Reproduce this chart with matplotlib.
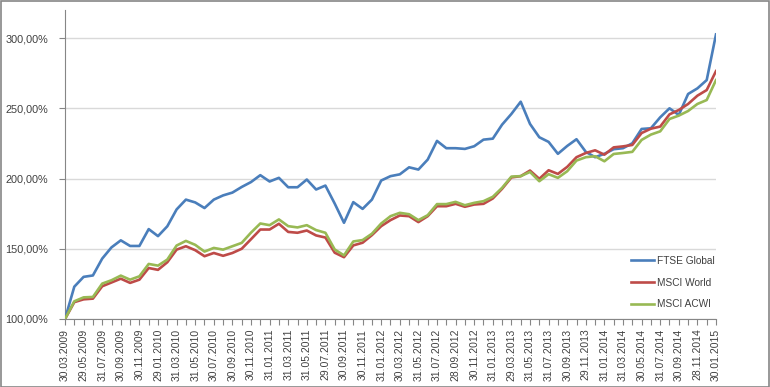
import matplotlib
matplotlib.use("Agg")
import matplotlib.pyplot as plt
import matplotlib.patches as patches
from matplotlib.ticker import FixedLocator, FuncFormatter
import numpy as np

# Style
BLUE = '#4a7ebb'
RED = '#be4b48'
GREEN = '#98b954'
GRID = '#d9d9d9'
AXIS = '#868686'
TEXT = '#404040'

plt.rcParams['font.family'] = ['Liberation Sans', 'DejaVu Sans']

# Data (index level in %, monthly, 30.03.2009 = 100)
ftse_global = [100, 123, 130, 131, 143, 151, 156, 152, 152, 164, 159, 166, 178, 185, 183,
               179, 185, 188, 190, 194, 197.5, 202.4, 197.9, 200.5, 193.8, 193.8, 199.3,
               192.2, 195, 182.2, 168.5, 183.2, 178.4, 185, 198.6, 201.7, 203, 208, 206.4,
               213.5, 226.8, 221.6, 221.6, 221.1, 223, 227.7, 228.4, 238.4, 246, 254.7,
               238.9, 229.4, 226.1, 217.6, 223.2, 228, 219, 215.2, 217.6, 220.9, 221.6,
               225.1, 235.3, 235.8, 243.6, 250, 245.3, 260.2, 264.2, 270.1, 302.6]
msci_world = [100, 112, 114, 114.5, 123.3, 126, 128.7, 125.7, 128, 136.3, 135, 140.4, 149.4,
              151.8, 149, 144.7, 147, 145, 147, 150, 156.8, 163.7, 163.7, 167.8, 162, 161.4,
              163, 159.5, 158, 147.2, 144, 152.4, 154.3, 159.7, 166.1, 170.4, 173.7, 173.2,
              169, 173.2, 180.3, 180.3, 182, 179.9, 181.5, 182, 185.8, 192.7, 200.8, 201.7,
              205.7, 199.8, 205.9, 203.3, 208.3, 215.2, 218.2, 220.1, 217, 222.2, 222.9,
              223.9, 232.4, 235.5, 237, 245.7, 248.8, 253.1, 259, 263, 276.5]
msci_acwi = [100, 112.6, 115.4, 115.7, 125.2, 127.6, 130.9, 128, 130.4, 139.2, 138, 142.3,
             152.3, 155.6, 152.8, 148, 150.6, 149.4, 151.8, 154.2, 161.5, 168, 166.8, 170.9,
             166.1, 165.2, 166.8, 163.3, 161.4, 149.5, 145.3, 155.2, 156.2, 160.7, 168,
             173.2, 175.6, 174.6, 170.4, 173.9, 181.8, 181.8, 183.4, 181, 182.7, 183.9, 187,
             193.4, 201.4, 201.7, 204.7, 198.1, 203.1, 200.5, 205.2, 212.8, 215.2, 215.9,
             212.3, 217.5, 218.2, 219, 227.5, 231.3, 233.6, 242.4, 244.8, 248.1, 253.1,
             255.9, 270.1]
series_names = ['FTSE Global', 'MSCI World', 'MSCI ACWI']

# every second month is labelled
tick_labels = ['30.03.2009', '29.05.2009', '31.07.2009', '30.09.2009', '30.11.2009',
               '29.01.2010', '31.03.2010', '31.05.2010', '30.07.2010', '30.09.2010',
               '30.11.2010', '31.01.2011', '31.03.2011', '31.05.2011', '29.07.2011',
               '30.09.2011', '30.11.2011', '31.01.2012', '30.03.2012', '31.05.2012',
               '31.07.2012', '28.09.2012', '30.11.2012', '31.01.2013', '29.03.2013',
               '31.05.2013', '31.07.2013', '30.09.2013', '29.11.2013', '31.01.2014',
               '31.03.2014', '30.05.2014', '31.07.2014', '30.09.2014', '28.11.2014',
               '30.01.2015']
y_ticks = [100, 150, 200, 250, 300]

# Figure
W, H = 770, 387
fig = plt.figure(figsize=(W / 100, H / 100), dpi=100)
fig.patch.set_facecolor('white')
ax = fig.add_axes([65 / W, 1 - 319 / H, (716 - 65) / W, (319 - 10) / H])

x = np.arange(len(ftse_global))
ax.plot(x, ftse_global, color=BLUE, lw=1.9, label=series_names[0], zorder=3)
ax.plot(x, msci_world, color=RED, lw=1.9, label=series_names[1], zorder=3)
ax.plot(x, msci_acwi, color=GREEN, lw=1.9, label=series_names[2], zorder=3)

ax.set_xlim(0, len(x) - 1)
ax.set_ylim(100, 320)

# y axis
ax.set_yticks(y_ticks)
ax.yaxis.set_major_formatter(FuncFormatter(lambda v, p: f"{v:.2f}%".replace('.', ',')))
ax.yaxis.grid(True, color=GRID, lw=1.0, zorder=0)
ax.set_axisbelow(True)

# x axis: a tick on every month, a label on every second
ax.xaxis.set_major_locator(FixedLocator(x[::2]))
ax.xaxis.set_minor_locator(FixedLocator(x[1::2]))
ax.set_xticklabels(tick_labels, rotation=90)

ax.tick_params(axis='x', which='both', direction='out', length=4, width=0.8,
               color=AXIS, labelsize=7.5, labelcolor=TEXT, pad=3)
ax.tick_params(axis='y', direction='out', length=4, width=0.8, color=AXIS,
               labelsize=7.8, labelcolor=TEXT, pad=8)

for s in ['top', 'right']:
    ax.spines[s].set_visible(False)
for s in ['left', 'bottom']:
    ax.spines[s].set_color(AXIS)
    ax.spines[s].set_linewidth(0.8)

fig.legend(loc='upper left', bbox_to_anchor=(631 / W, 1 - 256 / H), frameon=False,
           fontsize=7.3, handlelength=2.3, handletextpad=0.25, labelspacing=1.15,
           borderpad=0, borderaxespad=0, labelcolor=TEXT)

# chart border
fig.add_artist(patches.Rectangle((0.5 / W, 0.5 / H), (W - 1.5) / W, (H - 1.5) / H,
                                 transform=fig.transFigure, fill=False,
                                 edgecolor=AXIS, lw=1.2))

fig.savefig('out.png', dpi=100)
